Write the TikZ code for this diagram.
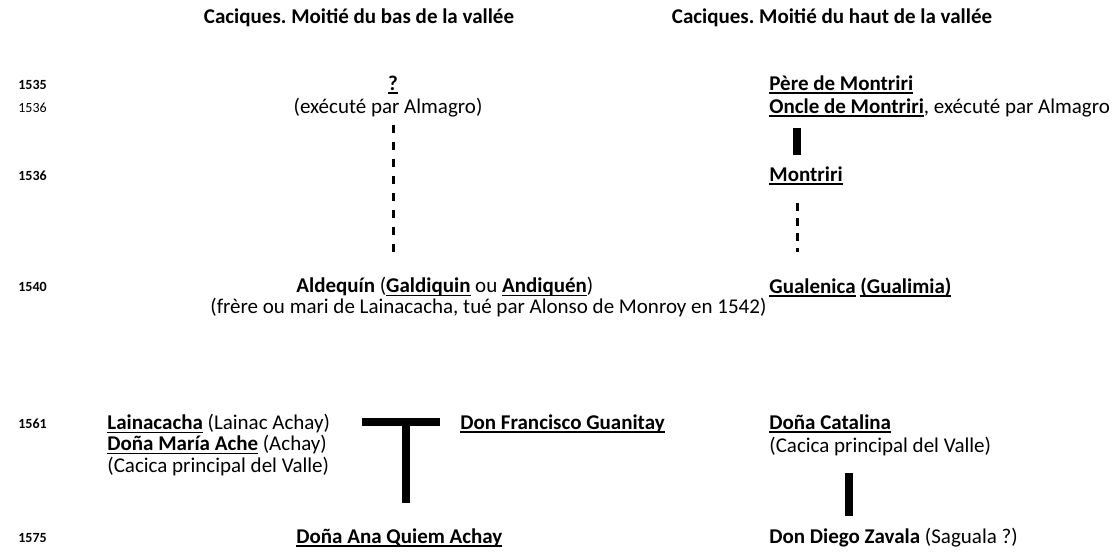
\documentclass[tikz,border=0pt]{standalone}
\usepackage{fontspec}
\setmainfont{Carlito}
\usepackage{tikz}
\frenchspacing

\newcommand{\souligne}[1]{\setbox0\hbox{#1}\rlap{\rule[-1.7pt]{\wd0}{0.8pt}}\box0\relax}

\begin{document}
\begin{tikzpicture}[
		x=0.5pt, y=-0.5pt,
		every node/.style={inner sep=0pt, font=\fontsize{10.5}{12}\selectfont},
		annee/.style={anchor=west, font=\bfseries\fontsize{7}{8}\selectfont},
		lien/.style={line width=4pt},
		filiation/.style={line width=1.5pt, dash pattern=on 4pt off 4.5pt}
	]
  \useasboundingbox (0,0) rectangle (1120,554);
  % titres
  \node (titre_bas) [font=\bfseries\fontsize{10.5}{12}\selectfont] at (359,18) {Caciques. Moitié du bas de la vallée};
  \node (titre_haut) [font=\bfseries\fontsize{10.5}{12}\selectfont] at (832,18) {Caciques. Moitié du haut de la vallée};
  % annees
  \node (a1535) [annee] at (18,85) {1535};
  \node (a1536) [annee, font=\fontsize{7}{8}\selectfont] at (18,108) {1536};
  \node (a1536b) [annee] at (18,176) {1536};
  \node (a1540) [annee] at (18,287) {1540};
  \node (a1561) [annee] at (18,424) {1561};
  \node (a1575) [annee] at (18,538) {1575};
  % moitie du bas
  \node (inconnu) at (393,85) {\bfseries\souligne{?}};
  \node (inconnu_note) at (388,108) {(exécuté par Almagro)};
  \node (aldequin) [anchor=west] at (296,287) {\textbf{Aldequín} (\textbf{\souligne{Galdiquin}} ou \textbf{\souligne{Andiquén}})};
  \node (aldequin_note) [anchor=west] at (210,307) {(frère ou mari de Lainacacha, tué par Alonso de Monroy en 1542)};
  \node (lainacacha) [anchor=west] at (107,424) {\textbf{\souligne{Lainacacha}} (Lainac Achay)};
  \node (maria) [anchor=west] at (107,445) {\textbf{\souligne{Doña María Ache}} (Achay)};
  \node (maria_note) [anchor=west] at (107,466) {(Cacica principal del Valle)};
  \node (francisco) [anchor=west] at (460,424) {\textbf{\souligne{Don Francisco Guanitay}}};
  \node (ana) [anchor=west] at (296,538) {\textbf{\souligne{Doña Ana Quiem Achay}}};
  % moitie du haut
  \node (pere) [anchor=west] at (769,85) {\textbf{\souligne{Père de Montriri}}};
  \node (oncle) [anchor=west] at (769,108) {\textbf{\souligne{Oncle de Montriri}}, exécuté par Almagro};
  \node (montriri) [anchor=west] at (769,176) {\textbf{\souligne{Montriri}}};
  \node (gualenica) [anchor=west] at (769,287) {\textbf{\souligne{Gualenica} \souligne{(Gualimia)}}};
  \node (catalina) [anchor=west] at (769,424) {\textbf{\souligne{Doña Catalina}}};
  \node (catalina_note) [anchor=west] at (769,446) {(Cacica principal del Valle)};
  \node (diego) [anchor=west] at (769,538) {\textbf{Don Diego Zavala} (Saguala ?)};
  % liens
  \coordinate (g1) at (393,125);
  \coordinate (g2) at (393,253);
  \draw[filiation] (g1) -- (g2);
  \coordinate (d1) at (797,128);
  \coordinate (d2) at (797,155);
  \draw[lien] (d1) -- (d2);
  \coordinate (d3) at (797,203);
  \coordinate (d4) at (797,252);
  \draw[filiation, dash pattern=on 4pt off 3.5pt] (d3) -- (d4);
  \coordinate (t1) at (362,422);
  \coordinate (t2) at (440,422);
  \coordinate (t3) at (406,422);
  \coordinate (t4) at (406,503);
  \draw[lien] (t1) -- (t2);
  \draw[lien] (t3) -- (t4);
  \coordinate (c1) at (849,473);
  \coordinate (c2) at (849,516);
  \draw[lien] (c1) -- (c2);
\end{tikzpicture}
\end{document}
